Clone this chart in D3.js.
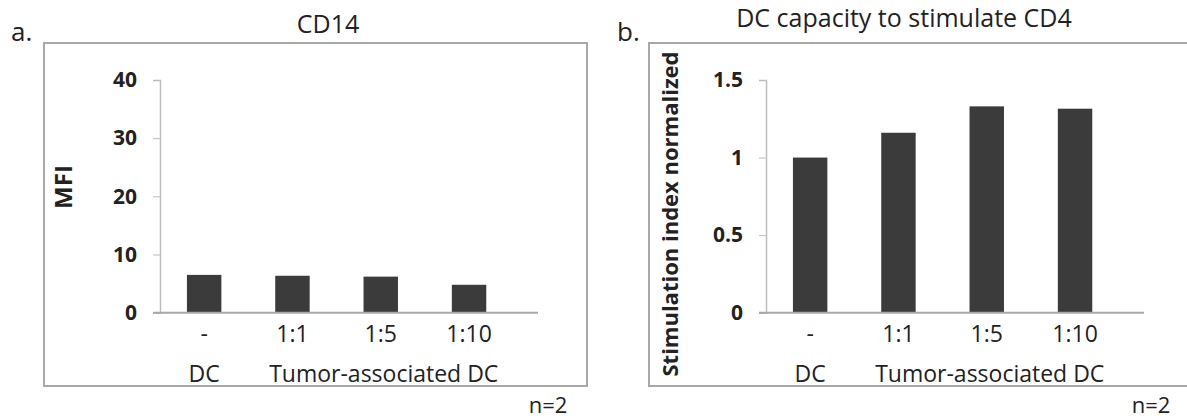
<!DOCTYPE html>
<html>
<head>
<meta charset="utf-8">
<script src="https://cdn.jsdelivr.net/npm/d3@7"></script>
<style>
  html, body { margin: 0; padding: 0; background: #fff; }
  svg { display: block; }
  text { font-family: "Open Sans", "Noto Sans", sans-serif; fill: #222; }
</style>
</head>
<body>
<svg id="fig" width="1187" height="419"></svg>
<script>
// Conditions shared by both panels
const categories = ["-", "1:1", "1:5", "1:10"];
const groupLabels = ["DC", "Tumor-associated DC"];

// Panel a: CD14 mean fluorescence intensity
const cd14Values = [6.5, 6.35, 6.2, 4.8];
const cd14Ticks = [0, 10, 20, 30, 40];

// Panel b: stimulation index of CD4 cells, normalized to DC
const stimValues = [1.0, 1.16, 1.33, 1.315];
const stimTicks = [0, 0.5, 1, 1.5];

const svg = d3.select("#fig");

const panels = [
  {
    letter: "a.", letterX: 11, title: "CD14", titleX: 328, titleY: 33,
    box: [44, 43, 543, 343], axisX: 160, axisEnd: 538,
    yLabel: "MFI", yLabelX: 72, yLabelY: 187, yLabelSize: 24,
    domain: [0, 40], ticks: cd14Ticks, values: cd14Values, fmt: d3.format("d"),
    nX: 548
  },
  {
    letter: "b.", letterX: 617, title: "DC capacity to stimulate CD4", titleX: 904, titleY: 27,
    box: [649, 43, 560, 343], axisX: 766, axisEnd: 1144,
    yLabel: "Stimulation index normalized", yLabelX: 678, yLabelY: 214, yLabelSize: 22,
    domain: [0, 1.5], ticks: stimTicks, values: stimValues, fmt: d => String(d),
    nX: 1151
  }
];

const yTop = 80, yBottom = 312.7, step = 88.3;
const labelSize = 23;

panels.forEach(p => {
  const g = svg.append("g");

  // frame around the plot area
  g.append("rect")
    .attr("x", p.box[0]).attr("y", p.box[1])
    .attr("width", p.box[2]).attr("height", p.box[3])
    .attr("fill", "none").attr("stroke", "#a8a8a8").attr("stroke-width", 2);

  g.append("text").attr("x", p.letterX).attr("y", 40.5)
    .attr("font-size", 26).text(p.letter);

  g.append("text").attr("x", p.titleX).attr("y", p.titleY)
    .attr("text-anchor", "middle").attr("font-size", 25).text(p.title);

  const x = d3.scaleBand()
    .domain(categories)
    .range([p.axisX, p.axisX + step * categories.length])
    .paddingInner(0.61).paddingOuter(0.305);

  const y = d3.scaleLinear().domain(p.domain).range([yBottom, yTop]);

  // bars
  g.selectAll("rect.bar").data(p.values).join("rect")
    .attr("class", "bar")
    .attr("x", (d, i) => x(categories[i]))
    .attr("width", x.bandwidth())
    .attr("y", d => y(d))
    .attr("height", d => y(0) - y(d))
    .attr("fill", "#3b3b3b");

  // y axis
  const yAxis = g.append("g")
    .attr("transform", `translate(${p.axisX},0)`)
    .call(d3.axisLeft(y).tickValues(p.ticks).tickFormat(p.fmt).tickSize(7).tickPadding(16));
  yAxis.select(".domain").attr("stroke", "#bdbdbd").attr("stroke-width", 1.5);
  yAxis.selectAll(".tick line").attr("stroke", "#bdbdbd");
  yAxis.selectAll(".tick text")
    .attr("font-family", "'Open Sans', sans-serif")
    .attr("font-weight", "bold").attr("font-size", 21).attr("fill", "#222");

  // x axis baseline and category labels
  g.append("line")
    .attr("x1", p.axisX - 7).attr("x2", p.axisEnd)
    .attr("y1", y(0)).attr("y2", y(0))
    .attr("stroke", "#a8a8a8").attr("stroke-width", 2);

  const xAxis = g.append("g")
    .attr("transform", `translate(0,${y(0)})`)
    .call(d3.axisBottom(x).tickSize(0).tickPadding(13));
  xAxis.select(".domain").remove();
  xAxis.selectAll(".tick text")
    .attr("font-family", "'Open Sans', sans-serif")
    .attr("font-size", labelSize).attr("fill", "#222");

  // group labels under the categories
  const center = c => x(c) + x.bandwidth() / 2;
  g.append("text").attr("x", center(categories[0])).attr("y", 382)
    .attr("text-anchor", "middle").attr("font-size", labelSize).text(groupLabels[0]);
  g.append("text").attr("x", (center(categories[1]) + center(categories[3])) / 2 + 3).attr("y", 382)
    .attr("text-anchor", "middle").attr("font-size", labelSize).text(groupLabels[1]);

  // y axis title
  g.append("text")
    .attr("transform", `translate(${p.yLabelX},${p.yLabelY}) rotate(-90)`)
    .attr("text-anchor", "middle").attr("font-weight", "bold").attr("font-size", p.yLabelSize)
    .text(p.yLabel);

  g.append("text").attr("x", p.nX).attr("y", 413)
    .attr("text-anchor", "middle").attr("font-size", 22).text("n=2");
});
</script>
</body>
</html>
